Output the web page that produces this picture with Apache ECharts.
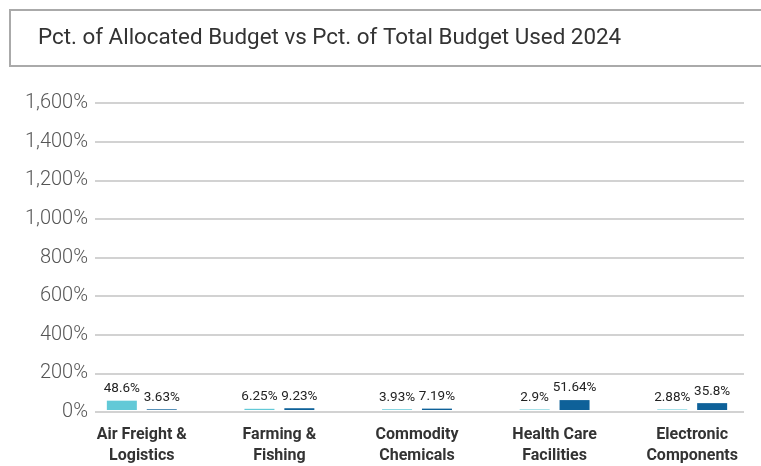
<!DOCTYPE html>
<html>
<head>
<meta charset="utf-8">
<script src="https://cdn.jsdelivr.net/npm/echarts@6/dist/echarts.min.js"></script>
<style>
  html, body { margin: 0; padding: 0; background: #ffffff; overflow: hidden; }
  #chart { width: 761px; height: 466px; }
</style>
</head>
<body>
<div id="chart"></div>
<script>
// 数据
const categories = ['Air Freight &\nLogistics', 'Farming &\nFishing', 'Commodity\nChemicals', 'Health Care\nFacilities', 'Electronic\nComponents'];
const allocatedPct = [48.6, 6.25, 3.93, 2.9, 2.88];
const usedPct = [3.63, 9.23, 7.19, 51.64, 35.8];
const yTicks = [0, 200, 400, 600, 800, 1000, 1200, 1400, 1600];

const lightColor = '#62c9d7';
const darkColor = '#0e6199';
const fontFamily = 'Roboto, "Noto Sans", sans-serif';

const myChart = echarts.init(document.getElementById('chart'));

const barLabel = {
  show: true,
  position: 'top',
  distance: 5,
  color: '#222222',
  fontSize: 13.5,
  fontFamily: fontFamily,
  formatter: p => p.value + '%'
};

const option = {
  backgroundColor: '#ffffff',
  animation: false,
  graphic: [
    {
      // 标题框（右侧开口）
      type: 'polyline',
      shape: { points: [[761, 10], [10, 10], [10, 66], [761, 66]] },
      style: { fill: null, stroke: '#aaaaaa', lineWidth: 2 },
      z: -1
    }
  ],
  title: {
    text: 'Pct. of Allocated Budget vs Pct. of Total Budget Used 2024',
    left: 38,
    top: 27,
    padding: 0,
    textStyle: {
      color: '#333333',
      fontFamily: fontFamily,
      fontSize: 22.4,
      fontWeight: 'normal'
    }
  },
  grid: [
    // 网格线与y轴
    { left: 95, right: 17, top: 103, bottom: 54 },
    // 柱子与类目
    { left: 73, right: -2, top: 103, bottom: 54 }
  ],
  xAxis: [
    {
      type: 'category',
      gridIndex: 0,
      data: categories,
      show: false
    },
    {
      type: 'category',
      gridIndex: 1,
      data: categories,
      axisLine: { show: false },
      axisTick: { show: false },
      axisLabel: {
        color: '#333333',
        fontFamily: fontFamily,
        fontSize: 16,
        fontWeight: 'bold',
        lineHeight: 21,
        margin: 14,
        interval: 0
      }
    }
  ],
  yAxis: [
    {
      type: 'value',
      gridIndex: 0,
      min: yTicks[0],
      max: yTicks[yTicks.length - 1],
      interval: 200,
      axisLine: { show: false },
      axisTick: { show: false },
      axisLabel: {
        color: '#555555',
        fontFamily: fontFamily,
        fontSize: 20,
        fontWeight: 300,
        margin: 7,
        formatter: v => v.toLocaleString('en-US') + '%'
      },
      splitLine: { lineStyle: { color: '#d2d2d2', width: 2 } }
    },
    {
      type: 'value',
      gridIndex: 1,
      min: yTicks[0],
      max: yTicks[yTicks.length - 1],
      interval: 200,
      show: false,
      splitLine: { show: false }
    }
  ],
  series: [
    {
      name: 'Pct. of Allocated Budget',
      type: 'bar',
      xAxisIndex: 1,
      yAxisIndex: 1,
      data: allocatedPct,
      barWidth: 30,
      barGap: '33%',
      itemStyle: { color: lightColor },
      label: barLabel
    },
    {
      name: 'Pct. of Total Budget Used',
      type: 'bar',
      xAxisIndex: 1,
      yAxisIndex: 1,
      data: usedPct,
      barWidth: 30,
      barGap: '33%',
      itemStyle: { color: darkColor },
      label: barLabel
    }
  ]
};

myChart.setOption(option);
</script>
</body>
</html>
